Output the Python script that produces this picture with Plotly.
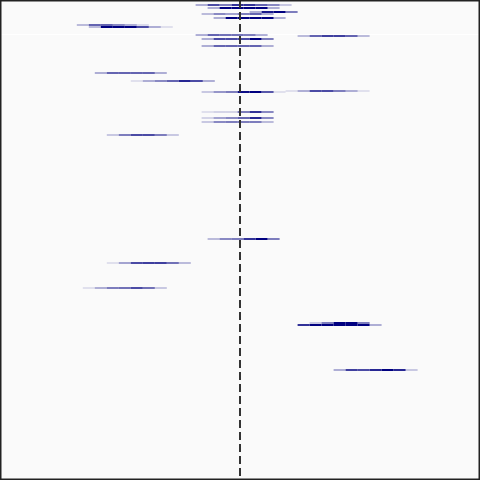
import plotly.graph_objects as go

# Row positions (vertical), interval start (x), and opacity of each unit-wide segment
row_pos = [5, 8, 12, 14, 18, 25, 27, 35, 36, 39, 46, 73, 81, 92, 91, 112, 118, 122, 135, 239, 263, 288, 323, 325, 370]
row_start = [-3.7, -2.7, 0.8, -3.2, -2.2, -13.6, -12.6, -3.7, 4.8, -3.2, -3.2, -12.1, -9.1,
             -3.2, 3.8, -3.2, -3.2, -3.2, -11.1, -2.7, -11.1, -13.1, 5.8, 4.8, 7.8]
row_alpha = [
    [0.3, 0.7, 0.5, 0.8, 0.8, 0.6, 0.45, 0.2],
    [0.3, 1.0, 1.0, 1.0, 1.0, 0.3],
    [0.3, 0.9, 1.0, 0.5],
    [0.25, 0.45, 0.35, 0.5, 0.6, 0.3],
    [0.3, 1.0, 1.0, 1.0, 1.0, 0.3],
    [0.25, 0.6, 0.6, 0.45, 0.3, 0.12],
    [0.25, 1.0, 1.0, 1.0, 0.7, 0.3, 0.1],
    [0.3, 0.6, 0.55, 0.55, 0.5, 0.3],
    [0.25, 0.6, 0.75, 0.75, 0.6, 0.25],
    [0.3, 0.7, 0.7, 0.7, 1.0, 0.5],
    [0.3, 0.6, 0.6, 0.6, 0.6, 0.3],
    [0.3, 0.6, 0.6, 0.6, 0.6, 0.3],
    [0.1, 0.3, 0.45, 0.6, 0.85, 0.7, 0.3],
    [0.2, 0.4, 0.5, 0.95, 1.0, 0.65, 0.1],
    [0.1, 0.3, 0.7, 0.7, 0.5, 0.3, 0.1],
    [0.1, 0.15, 0.15, 0.5, 0.8, 0.45],
    [0.15, 0.35, 0.45, 0.6, 0.85, 0.45],
    [0.2, 0.45, 0.5, 0.5, 0.5, 0.25],
    [0.2, 0.5, 0.7, 0.7, 0.5, 0.2],
    [0.25, 0.45, 0.5, 0.8, 1.0, 0.5],
    [0.1, 0.35, 0.7, 0.75, 0.75, 0.55, 0.25],
    [0.1, 0.3, 0.5, 0.55, 0.7, 0.55, 0.2],
    [0.2, 0.5, 1.0, 1.0, 0.5],
    [0.8, 1.0, 1.0, 1.0, 1.0, 1.0, 0.3],
    [0.3, 0.75, 0.7, 0.85, 1.0, 0.85, 0.2],
]
grid_pos = [34]
ref_value = 0

fig = go.Figure()
for y, x0, alphas in zip(row_pos, row_start, row_alpha):
    for i, a in enumerate(alphas):
        fig.add_trace(go.Scatter(
            x=[x0 + i, x0 + i + 1], y=[y, y], mode="lines",
            line=dict(color=f"rgba(0,0,128,{a})", width=2),
            hoverinfo="skip", showlegend=False))

fig.add_trace(go.Scatter(x=[ref_value, ref_value], y=[0, 480], mode="lines",
                         line=dict(color="#333333", width=2, dash="8px,4px"),
                         hoverinfo="skip", showlegend=False))

fig.update_layout(
    width=480, height=480, margin=dict(l=0, r=0, t=0, b=0),
    paper_bgcolor="#fafafa", plot_bgcolor="#fafafa",
    showlegend=False,
    xaxis=dict(range=[-20, 20], showgrid=False, zeroline=False, showticklabels=False, ticks=""),
    yaxis=dict(range=[480, 0], tickvals=grid_pos, showgrid=True, gridcolor="#ffffff", gridwidth=1,
               zeroline=False, showticklabels=False, ticks=""),
    shapes=[dict(type="rect", xref="paper", yref="paper", x0=0, y0=0, x1=1, y1=1,
                 line=dict(color="#222222", width=3), fillcolor="rgba(0,0,0,0)")],
)
fig.write_html("out.html")
